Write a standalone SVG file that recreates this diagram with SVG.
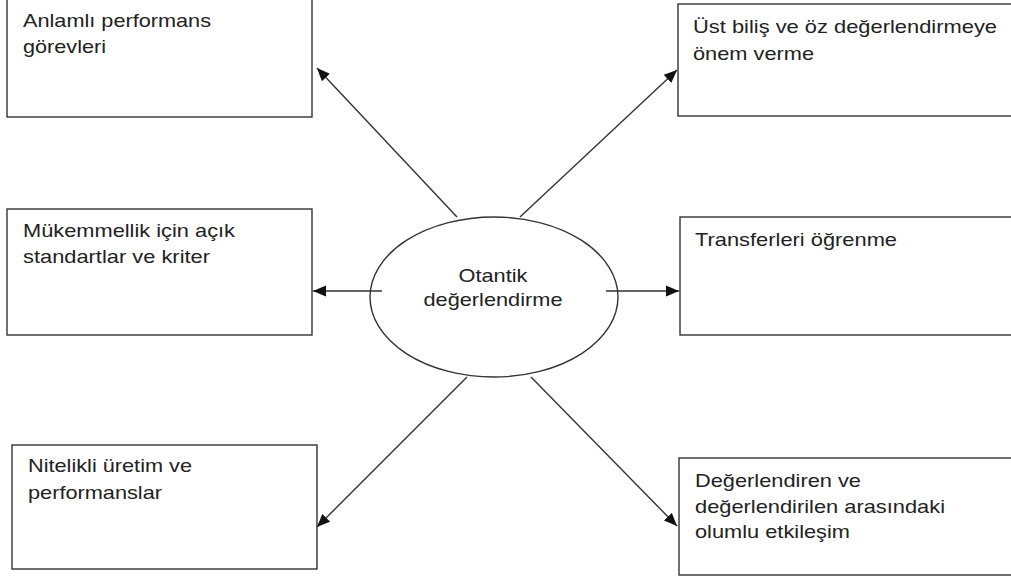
<svg xmlns="http://www.w3.org/2000/svg" width="1011" height="577" viewBox="0 0 1011 577">
<style>
.box{fill:#fff;stroke:#333;stroke-width:1.4}
.t{font-family:"Liberation Sans",Arial,sans-serif;font-size:19px;fill:#222}
.c{stroke:#333;stroke-width:1.4;fill:none}
</style>
<defs>
<marker id="ah" markerUnits="userSpaceOnUse" markerWidth="14" markerHeight="12" refX="13" refY="5.5" orient="auto" viewBox="0 0 14 11">
<path d="M0,0 L13,5.5 L0,11 z" fill="#111"/>
</marker>
</defs>
<rect width="1011" height="577" fill="#fff"/>
<g id="connectors">
<path class="c" d="M457,217 L317,68" marker-end="url(#ah)"/>
<path class="c" d="M520,217 L677,70" marker-end="url(#ah)"/>
<path class="c" d="M382,291 L313,291" marker-end="url(#ah)"/>
<path class="c" d="M606,291 L679,291" marker-end="url(#ah)"/>
<path class="c" d="M467,377 L317,527" marker-end="url(#ah)"/>
<path class="c" d="M531,377 L677,526" marker-end="url(#ah)"/>
</g>
<g id="n-center">
<ellipse class="box" cx="494" cy="297" rx="124" ry="80" style="fill:none"/>
<text class="t" x="493" y="282" text-anchor="middle" textLength="69" lengthAdjust="spacingAndGlyphs">Otantik</text>
<text class="t" x="493" y="306" text-anchor="middle" textLength="139" lengthAdjust="spacingAndGlyphs">değerlendirme</text>
</g>
<g id="n-tl">
<rect class="box" x="7" y="-2" width="305" height="119"/>
<text class="t" x="23" y="27" textLength="188" lengthAdjust="spacingAndGlyphs">Anlamlı performans</text>
<text class="t" x="23" y="53" textLength="83" lengthAdjust="spacingAndGlyphs">görevleri</text>
</g>
<g id="n-tr">
<rect class="box" x="678" y="4" width="345" height="112"/>
<text class="t" x="693" y="33" textLength="304" lengthAdjust="spacingAndGlyphs">Üst biliş ve öz değerlendirmeye</text>
<text class="t" x="693" y="60" textLength="121" lengthAdjust="spacingAndGlyphs">önem verme</text>
</g>
<g id="n-ml">
<rect class="box" x="7" y="209" width="305" height="126"/>
<text class="t" x="23" y="237" textLength="212" lengthAdjust="spacingAndGlyphs">Mükemmellik için açık</text>
<text class="t" x="23" y="263" textLength="187" lengthAdjust="spacingAndGlyphs">standartlar ve kriter</text>
</g>
<g id="n-mr">
<rect class="box" x="680" y="217" width="345" height="118"/>
<text class="t" x="695" y="246" textLength="202" lengthAdjust="spacingAndGlyphs">Transferleri öğrenme</text>
</g>
<g id="n-bl">
<rect class="box" x="12" y="445" width="305" height="124"/>
<text class="t" x="28" y="472" textLength="164" lengthAdjust="spacingAndGlyphs">Nitelikli üretim ve</text>
<text class="t" x="28" y="499" textLength="134" lengthAdjust="spacingAndGlyphs">performanslar</text>
</g>
<g id="n-br">
<rect class="box" x="679" y="458" width="345" height="117"/>
<text class="t" x="695" y="487" textLength="166" lengthAdjust="spacingAndGlyphs">Değerlendiren ve</text>
<text class="t" x="695" y="513" textLength="250" lengthAdjust="spacingAndGlyphs">değerlendirilen arasındaki</text>
<text class="t" x="695" y="538" textLength="155" lengthAdjust="spacingAndGlyphs">olumlu etkileşim</text>
</g>
</svg>
